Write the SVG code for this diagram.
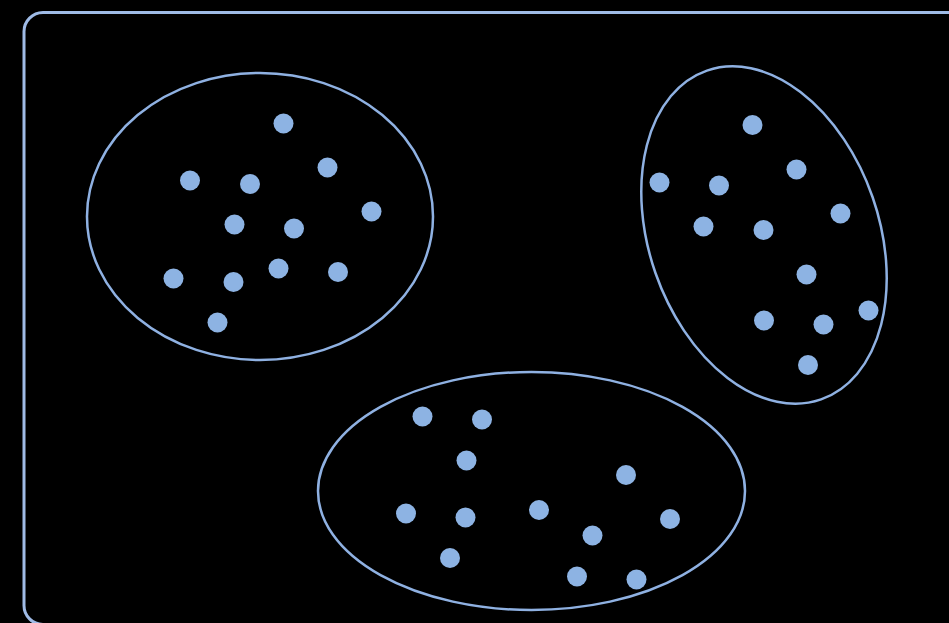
<svg xmlns="http://www.w3.org/2000/svg" width="949" height="623" viewBox="0 0 949 623">
<style>
.frame{fill:none;stroke:#9FBBE6;stroke-width:3}
.cluster{fill:none;stroke:#8FB1E2;stroke-width:2.5}
.pt{fill:#8DB3E3}
</style>
<rect x="0" y="0" width="949" height="623" fill="#000"/>
<rect id="frame" class="frame" x="24" y="12.5" width="960" height="612" rx="19" ry="19"/>
<g id="cluster-left">
<ellipse class="cluster" cx="260" cy="216.5" rx="173" ry="143.5"/>
<g class="pt">
<circle cx="283.5" cy="123.5" r="10"/>
<circle cx="327.5" cy="167.5" r="10"/>
<circle cx="190" cy="180.5" r="10"/>
<circle cx="250" cy="184" r="10"/>
<circle cx="371.5" cy="211.5" r="10"/>
<circle cx="234.5" cy="224.5" r="10"/>
<circle cx="294" cy="228.5" r="10"/>
<circle cx="173.5" cy="278.5" r="10"/>
<circle cx="233.5" cy="282" r="10"/>
<circle cx="278.5" cy="268.5" r="10"/>
<circle cx="338" cy="272" r="10"/>
<circle cx="217.5" cy="322.5" r="10"/>
</g>
</g>
<g id="cluster-right">
<ellipse class="cluster" cx="764" cy="235" rx="115" ry="174" transform="rotate(-19.15 764 235)"/>
<g class="pt">
<circle cx="752.5" cy="125" r="10"/>
<circle cx="659.5" cy="182.5" r="10"/>
<circle cx="719" cy="185.5" r="10"/>
<circle cx="796.5" cy="169.5" r="10"/>
<circle cx="840.5" cy="213.5" r="10"/>
<circle cx="703.5" cy="226.5" r="10"/>
<circle cx="763.5" cy="230" r="10"/>
<circle cx="806.5" cy="274.5" r="10"/>
<circle cx="868.5" cy="310.5" r="10"/>
<circle cx="764" cy="320.5" r="10"/>
<circle cx="823.5" cy="324.5" r="10"/>
<circle cx="808" cy="365" r="10"/>
</g>
</g>
<g id="cluster-bottom">
<ellipse class="cluster" cx="531.5" cy="491" rx="213.5" ry="119"/>
<g class="pt">
<circle cx="422.5" cy="416.5" r="10"/>
<circle cx="482" cy="419.5" r="10"/>
<circle cx="466.5" cy="460.5" r="10"/>
<circle cx="626" cy="475" r="10"/>
<circle cx="406" cy="513.5" r="10"/>
<circle cx="465.5" cy="517.5" r="10"/>
<circle cx="539" cy="510" r="10"/>
<circle cx="670" cy="519" r="10"/>
<circle cx="592.5" cy="535.5" r="10"/>
<circle cx="450" cy="558" r="10"/>
<circle cx="577" cy="576.5" r="10"/>
<circle cx="636.5" cy="579.5" r="10"/>
</g>
</g>
<g id="connectors"></g>
</svg>
